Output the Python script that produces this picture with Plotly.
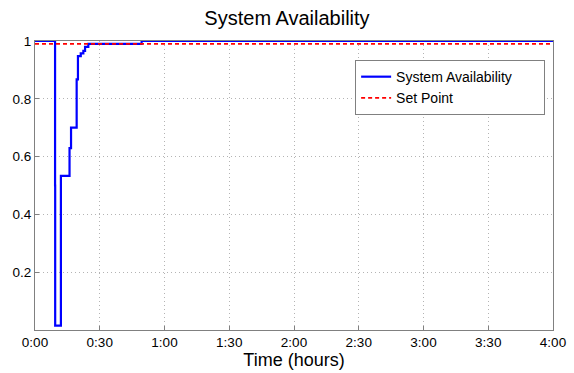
import plotly.graph_objects as go

# Time in minutes, availability values (step data)
time_min = [0, 9.27, 9.3, 9.35, 12.0, 16.0, 16.7, 19.3, 19.9, 21.2, 22.4, 23.2, 24.7, 49.4, 240]
availability = [1.0, 1.0, 0.5, 0.015, 0.533, 0.629, 0.70, 0.867, 0.948, 0.957, 0.966, 0.98, 0.99, 1.0, 1.0]

setpoint_time = [0, 240]
setpoint_value = [0.99, 0.99]

tick_vals = [0, 30, 60, 90, 120, 150, 180, 210, 240]
tick_text = ["0:00", "0:30", "1:00", "1:30", "2:00", "2:30", "3:00", "3:30", "4:00"]
ytick_vals = [0.2, 0.4, 0.6, 0.8, 1.0]
ytick_text = ["0.2", "0.4", "0.6", "0.8", "1"]

FONT = "Liberation Sans, Arial"
PAD = "\u00a0" * 7

fig = go.Figure()
fig.add_trace(go.Scatter(x=time_min, y=availability, mode="lines", line_shape="hv",
                         name="System Availability" + PAD, line=dict(color="#0000ff", width=2.2)))
fig.add_trace(go.Scatter(x=setpoint_time, y=setpoint_value, mode="lines",
                         name="Set Point", line=dict(color="#ff0000", width=1.8, dash="4px,3px")))

axis_common = dict(showgrid=True, gridcolor="#b4b4b4", griddash="1px,3px", gridwidth=1,
                   showline=True, linecolor="#808080", linewidth=1, mirror=True,
                   ticks="inside", ticklen=4, tickcolor="#808080", zeroline=False,
                   automargin=False,
                   tickfont=dict(family=FONT, size=13.5, color="black"))

fig.update_layout(
    width=574, height=373,
    margin=dict(l=35, r=21, t=41, b=43),
    paper_bgcolor="white", plot_bgcolor="white",
    title=dict(text="System Availability", x=0.5, xanchor="center", y=0.952, yanchor="middle",
               font=dict(family=FONT, size=20, color="black")),
    xaxis=dict(range=[0, 240], tickvals=tick_vals, ticktext=tick_text,
               title=dict(text="Time (hours)", standoff=3,
                          font=dict(family=FONT, size=18, color="black")),
               **axis_common),
    yaxis=dict(range=[0, 1.0], tickvals=ytick_vals, ticktext=ytick_text, **axis_common),
    legend=dict(x=0.618, y=0.934, xanchor="left", yanchor="top",
                bgcolor="white", bordercolor="#808080", borderwidth=1,
                font=dict(family=FONT, size=14, color="black"),
                tracegroupgap=4),
    showlegend=True,
)

fig.write_html("out.html", post_script="document.body.style.margin='0';",
               config={"displayModeBar": False})
